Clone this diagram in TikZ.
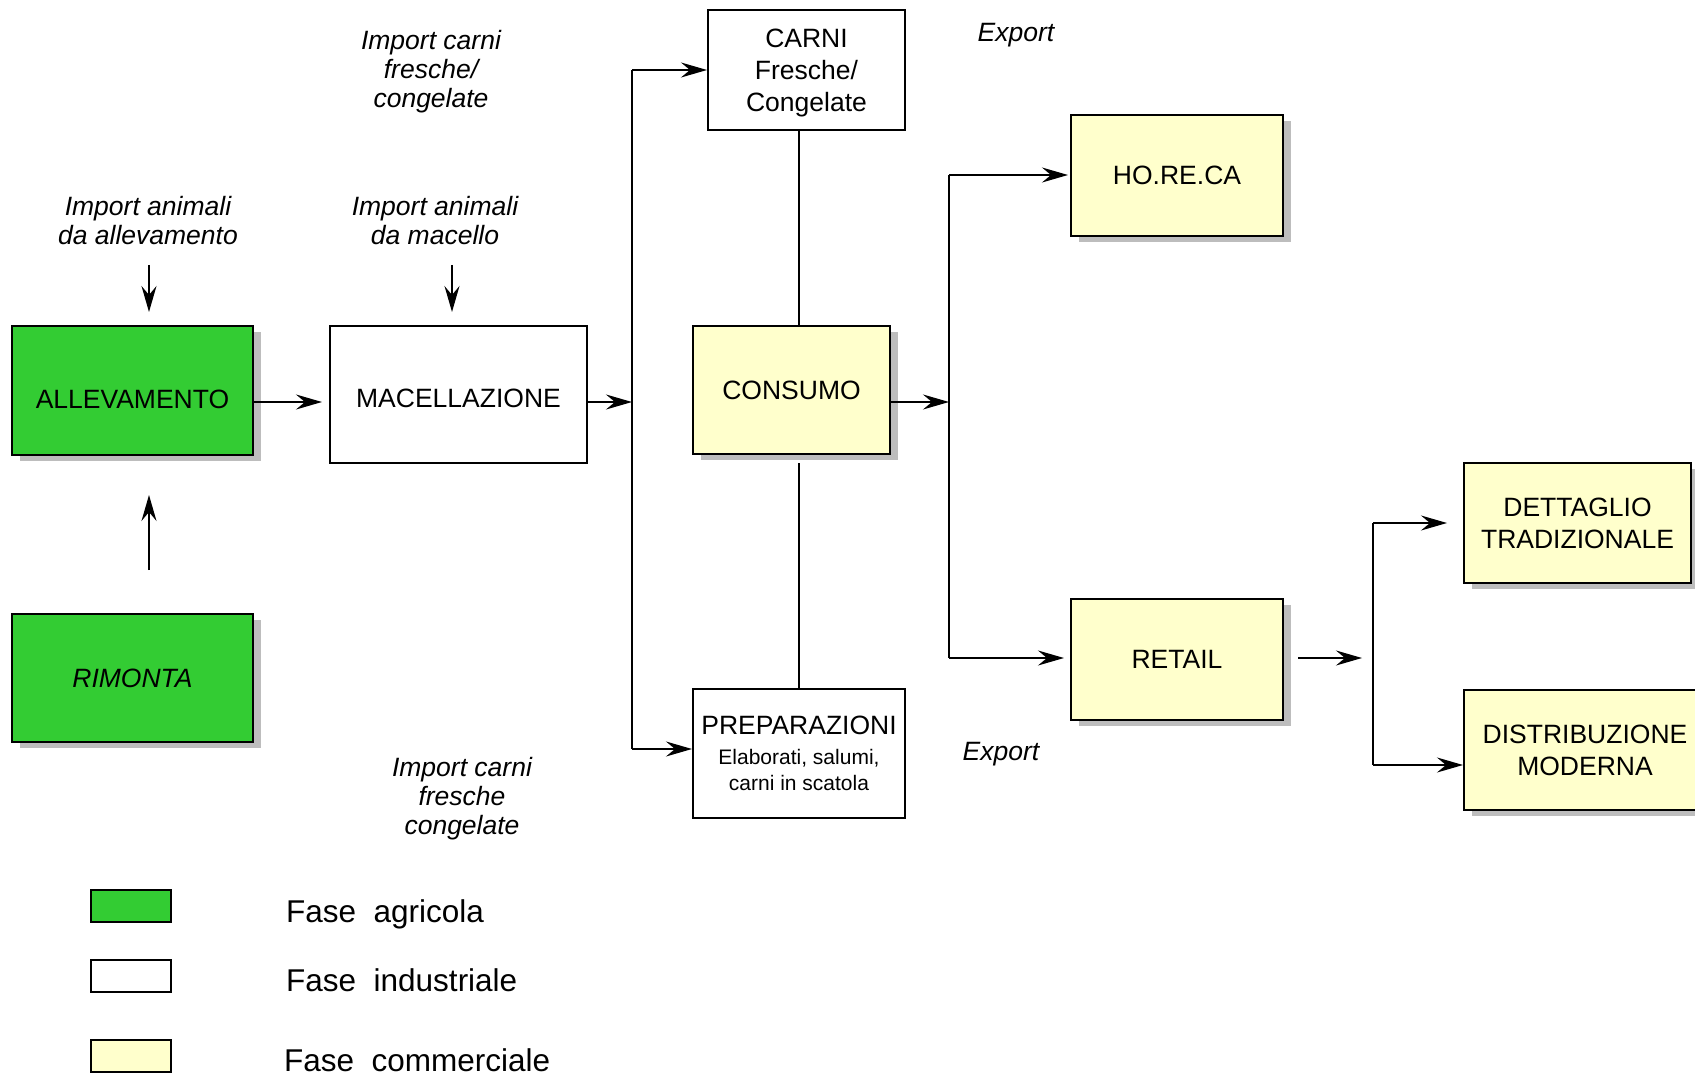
\documentclass[tikz,border=0pt]{standalone}
\usepackage{fontspec}
\setmainfont{Liberation Sans}
\usetikzlibrary{arrows.meta,shadows}
\definecolor{agri}{HTML}{33CC33}
\definecolor{comm}{HTML}{FFFFCC}
\definecolor{shade}{HTML}{BDBDBD}
\newcommand{\subtext}{\fontsize{21}{26}\selectfont}
\tikzset{
  box/.style={draw=black, line width=2pt, inner sep=0pt, align=center,
    font=\fontsize{26.5}{32}\selectfont},
  shadowed/.style={drop shadow={shadow xshift=8pt, shadow yshift=-6pt, fill=shade, opacity=1}},
  agribox/.style={box, shadowed, fill=agri},
  indbox/.style={box, fill=white},
  combox/.style={box, shadowed, fill=comm},
  note/.style={font=\fontsize{26.5}{29}\selectfont\itshape, align=center, inner sep=0pt},
  legtext/.style={font=\fontsize{31.5}{36}\selectfont, anchor=west, inner sep=0pt},
  legbox/.style={draw=black, line width=2pt, minimum width=80pt, minimum height=32pt, inner sep=0pt},
  link/.style={line width=2pt},
  arr/.style={link, -{Stealth[length=26pt,width=15pt,inset=9pt]}},
}
\begin{document}
\begin{tikzpicture}[x=1pt, y=-1pt]
\useasboundingbox (0,0) rectangle (1695,1075);
\clip (0,0) rectangle (1695,1075);

% process boxes
\node[agribox, minimum width=241pt, minimum height=129pt, text height=37pt] (allev) at (132.5,390.5) {ALLEVAMENTO};
\node[indbox, minimum width=257pt, minimum height=137pt, text height=27pt] (mac) at (458.5,394.5) {MACELLAZIONE};
\node[indbox, minimum width=197pt, minimum height=120pt, text depth=0pt] (carni) at (806.5,70) {CARNI\\Fresche/\\Congelate};
\node[combox, minimum width=197pt, minimum height=128pt] (cons) at (791.5,390) {CONSUMO};
\node[indbox, minimum width=212pt, minimum height=129pt, font=\fontsize{26.5}{26}\selectfont] (prep) at (799,753.5)
  {PREPARAZIONI\\[4pt]\subtext Elaborati, salumi,\\\subtext carni in scatola};
\node[combox, minimum width=212pt, minimum height=121pt] (horeca) at (1177,175.5) {HO.RE.CA};
\node[combox, minimum width=212pt, minimum height=121pt] (retail) at (1177,659.5) {RETAIL};
\node[combox, minimum width=227pt, minimum height=120pt] (dett) at (1577.5,523) {DETTAGLIO\\TRADIZIONALE};
\node[combox, minimum width=242pt, minimum height=120pt] (distr) at (1585,750) {DISTRIBUZIONE\\MODERNA};
\node[agribox, minimum width=241pt, minimum height=128pt] (rim) at (132.5,678) {\itshape RIMONTA};

% flow annotations
\node[note] (impcarni) at (431,72) {Import carni\\fresche/\\congelate};
\node[note] (impall) at (148,221) {Import animali\\da allevamento};
\node[note] (impmac) at (435,221) {Import animali\\da macello};
\node[note] (impcarnib) at (462,799) {Import carni\\fresche\\congelate};
\node[note] (expa) at (1016,35) {Export};
\node[note] (expb) at (1001,754) {Export};

% legend
\node[legbox, fill=agri] (lg1) at (131,906) {};
\node[legbox, fill=white] (lg2) at (131,976) {};
\node[legbox, fill=comm] (lg3) at (131,1056) {};
\node[legtext] (lt1) at (286,914) {Fase\ \ agricola};
\node[legtext] (lt2) at (286,980) {Fase\ \ industriale};
\node[legtext] (lt3) at (284,1060) {Fase\ \ commerciale};

% branching points
\coordinate (row) at (0,402);
\coordinate (sa) at (632,70);
\coordinate (sb) at (632,749);
\coordinate (ta) at (949,175);
\coordinate (tb) at (949,658);
\coordinate (ua) at (1373,523);
\coordinate (ub) at (1373,765);
\coordinate (d1) at (149,265);
\coordinate (d2) at (452,265);
\coordinate (u1) at (149,570);
\coordinate (cb) at ([yshift=-8pt]cons.south);

% connectors
\draw[arr, shorten >=13pt] (d1) -- (d1 |- allev.north);
\draw[arr, shorten >=13pt] (d2) -- (d2 |- mac.north);
\draw[arr, shorten >=39pt] (u1) -- (u1 |- allev.south);
\draw[arr, shorten >=7pt] (allev.east |- row) -- (mac.west |- row);
\draw[arr] (mac.east |- row) -- (sa |- row);
\draw[link] (sa) -- (sb);
\draw[arr] (sa) -- (carni.west |- sa);
\draw[arr] (sb) -- (prep.west |- sb);
\draw[link] (carni.south -| prep.north) -- (cons.north -| prep.north);
\draw[link] (cb -| prep.north) -- (prep.north);
\draw[arr] (cons.east |- row) -- (ta |- row);
\draw[link] (ta) -- (tb);
\draw[arr, shorten >=2pt] (ta) -- (horeca.west |- ta);
\draw[arr, shorten >=6pt] (tb) -- (retail.west |- tb);
\draw[arr, shorten <=14pt, shorten >=11pt] (retail.east |- tb) -- (ua |- tb);
\draw[link] (ua) -- (ub);
\draw[arr, shorten >=16pt] (ua) -- (dett.west |- ua);
\draw[arr] (ub) -- (distr.west |- ub);
\end{tikzpicture}
\end{document}
